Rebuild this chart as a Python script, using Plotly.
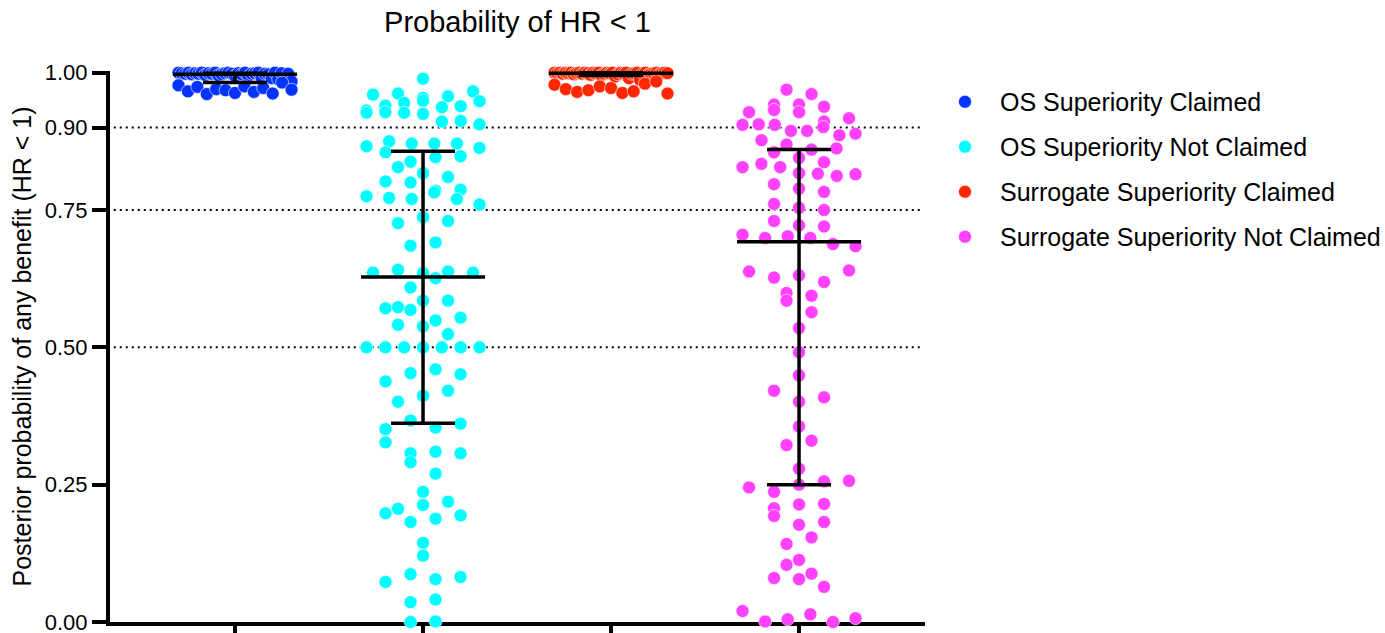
import numpy as np
import plotly.graph_objects as go

# ---------------- data ----------------
categories = ["OS Superiority Claimed", "OS Superiority Not Claimed",
              "Surrogate Superiority Claimed", "Surrogate Superiority Not Claimed"]

os_claimed = [1.000, 0.999, 0.998, 0.977, 1.000, 0.997, 0.999, 0.966, 0.998, 1.000,
              0.996, 0.974, 0.999, 0.998, 1.000, 0.961, 0.995, 0.997, 0.999, 0.970,
              1.000, 0.998, 0.994, 0.968, 0.999, 0.997, 1.000, 0.963, 0.993, 0.998,
              0.999, 0.975, 1.000, 0.991, 0.998, 0.965, 0.997, 0.990, 1.000, 0.972,
              0.988, 0.999, 0.986, 0.962, 0.998, 0.984, 0.982, 0.969]

os_not_claimed = [0.989,
                  0.960, 0.962, 0.954, 0.957, 0.966,
                  0.931, 0.940, 0.927, 0.928, 0.945, 0.949, 0.927, 0.937, 0.939, 0.948, 0.925,
                  0.911, 0.912, 0.906,
                  0.866, 0.875, 0.871, 0.871, 0.871, 0.863, 0.855,
                  0.838, 0.846, 0.848, 0.828,
                  0.817,
                  0.802, 0.810, 0.800,
                  0.775, 0.785, 0.772, 0.787, 0.770, 0.782, 0.770,
                  0.760,
                  0.726, 0.737, 0.730,
                  0.685, 0.691,
                  0.636, 0.641, 0.635, 0.638, 0.636,
                  0.609, 0.626,
                  0.571, 0.573, 0.585, 0.568, 0.585,
                  0.549, 0.541, 0.538, 0.554,
                  0.524,
                  0.500, 0.500, 0.500, 0.500, 0.500, 0.500, 0.500,
                  0.438, 0.453, 0.460, 0.451,
                  0.401, 0.412, 0.421,
                  0.351, 0.367, 0.354, 0.361,
                  0.327,
                  0.307, 0.310, 0.291, 0.307,
                  0.270,
                  0.237,
                  0.206, 0.198, 0.213, 0.219,
                  0.182, 0.188, 0.194,
                  0.144, 0.121,
                  0.073, 0.087, 0.078, 0.082,
                  0.036, 0.041,
                  0.000, 0.001]

sur_claimed = [1.000, 0.999, 1.000, 0.978, 0.998, 1.000, 0.999, 0.970, 1.000, 0.997,
               0.999, 1.000, 0.965, 0.998, 1.000, 0.999, 0.996, 1.000, 0.968, 0.999,
               1.000, 0.995, 0.998, 1.000, 0.975, 0.999, 1.000, 0.993, 0.997, 1.000,
               0.999, 0.972, 1.000, 0.990, 0.998, 0.999, 1.000, 0.963, 0.987, 0.999,
               1.000, 0.996, 0.998, 0.999, 0.966, 1.000, 0.997, 0.999, 0.980, 1.000,
               0.984, 0.999, 0.962]

sur_not_claimed = [0.969, 0.961,
                   0.942, 0.942,
                   0.928, 0.932, 0.938, 0.928,
                   0.911, 0.905, 0.906, 0.917, 0.905,
                   0.894, 0.894, 0.901,
                   0.886, 0.889,
                   0.877,
                   0.869, 0.860, 0.862, 0.855,
                   0.845,
                   0.828, 0.834, 0.837, 0.828,
                   0.817, 0.816, 0.812, 0.815,
                   0.797, 0.789, 0.783,
                   0.761,
                   0.754, 0.750,
                   0.730,
                   0.722, 0.720,
                   0.705, 0.699, 0.702, 0.699,
                   0.688, 0.684,
                   0.638, 0.627, 0.631, 0.619, 0.640,
                   0.599, 0.594, 0.585,
                   0.564,
                   0.535,
                   0.491,
                   0.449,
                   0.421,
                   0.401, 0.409,
                   0.356,
                   0.322, 0.330,
                   0.279,
                   0.245, 0.237, 0.250, 0.256, 0.257,
                   0.207, 0.214, 0.215,
                   0.193,
                   0.177, 0.182,
                   0.142, 0.154,
                   0.113, 0.104,
                   0.088, 0.080, 0.078,
                   0.064,
                   0.020,
                   0.001, 0.005, 0.014, 0.000, 0.007]

# median with interquartile range, as drawn in the reference
medians = [0.997, 0.628, 0.999, 0.692]
q1 = [0.982, 0.362, 0.995, 0.250]
q3 = [0.999, 0.857, 1.000, 0.860]

y_tick_vals = [0.0, 0.25, 0.50, 0.75, 0.90, 1.00]
y_tick_text = ["0.00", "0.25", "0.50", "0.75", "0.90", "1.00"]
ref_lines = [0.50, 0.75, 0.90]

# ---------------- styling / layout ----------------
colors = ["#0433FF", "#00FDFF", "#FF2600", "#FF40FF"]
FONT = "Liberation Sans, Arial, Helvetica, sans-serif"
W, H = 1385, 633
M_L, M_R, M_T, M_B = 110, 460, 71, 11
X_RANGE = [-0.665, 3.67]
Y_RANGE = [0.0, 1.003]
px_per_x = (W - M_L - M_R) / (X_RANGE[1] - X_RANGE[0])
px_per_y = (H - M_T - M_B) / (Y_RANGE[1] - Y_RANGE[0])

DOT = 12.5          # px, marker diameter (row height)
ROW_STEP = 25.0     # px between neighbours in one row
MAX_SPAN = 113.0    # px, widest row (centre to centre)


def swarm_offsets(values):
    """Prism-like column scatter: walk the sorted values, start a new row
    whenever a value is one dot height above the row start, and spread the
    points of a row evenly around the category centre."""
    h = DOT / px_per_y
    order = sorted(range(len(values)), key=lambda i: (values[i], i))
    rows, cur, start = [], [], None
    for i in order:
        if cur and values[i] - start >= h - 1e-9:
            rows.append(cur)
            cur = []
        if not cur:
            start = values[i]
        cur.append(i)
    if cur:
        rows.append(cur)
    offs = np.zeros(len(values))
    for row in rows:
        row = sorted(row)
        n = len(row)
        if n < 2:
            continue
        step = min(ROW_STEP, MAX_SPAN / (n - 1))
        for k, i in enumerate(row):
            offs[i] = (k - (n - 1) / 2) * step / px_per_x
    return offs


groups = [os_claimed, os_not_claimed, sur_claimed, sur_not_claimed]

fig = go.Figure()

for gi, (name, vals, col) in enumerate(zip(categories, groups, colors)):
    offs = swarm_offsets(vals)
    fig.add_trace(go.Scatter(
        x=gi + offs, y=vals, mode="markers", name=name,
        legendgroup=name,
        marker=dict(size=13, color=col, line=dict(color="white", width=0.6)),
        cliponaxis=False, hoverinfo="y",
    ))

# median lines
MED_HALF = 0.33
mx, my = [], []
for gi, m in enumerate(medians):
    mx += [gi - MED_HALF, gi + MED_HALF, None]
    my += [m, m, None]
fig.add_trace(go.Scatter(x=mx, y=my, mode="lines", showlegend=False,
                         line=dict(color="black", width=3.5), hoverinfo="skip"))

# interquartile range whiskers
fig.add_trace(go.Scatter(
    x=list(range(len(categories))), y=medians, mode="markers", showlegend=False,
    marker=dict(size=1, color="rgba(0,0,0,0)"), hoverinfo="skip",
    error_y=dict(type="data", symmetric=False,
                 array=[b - m for b, m in zip(q3, medians)],
                 arrayminus=[m - a for m, a in zip(medians, q1)],
                 width=32, thickness=3.5, color="black"),
))

shapes = [dict(type="line", xref="x", yref="y", x0=X_RANGE[0] + 0.02, x1=X_RANGE[1] - 0.02,
               y0=v, y1=v, layer="below",
               line=dict(color="black", width=2, dash="2px,4px")) for v in ref_lines]

fig.update_layout(
    width=W, height=H, autosize=False,
    margin=dict(l=M_L, r=M_R, t=M_T, b=M_B, pad=0, autoexpand=False),
    paper_bgcolor="white", plot_bgcolor="white",
    font=dict(family=FONT, color="black"),
    title=dict(text="Probability of HR &lt; 1", x=0.5, xref="paper", xanchor="center",
               y=1 - 22 / H, yref="container", yanchor="middle",
               font=dict(size=29, family=FONT, color="black")),
    showlegend=True,
    legend=dict(x=(930 - M_L) / (W - M_L - M_R), xanchor="left", y=0.9855, yanchor="top",
                font=dict(size=25, family=FONT, color="black"),
                tracegroupgap=9.5, itemwidth=60, bgcolor="rgba(0,0,0,0)"),
    shapes=shapes,
    xaxis=dict(range=X_RANGE, tickvals=list(range(len(categories))), showticklabels=False,
               showline=True, linecolor="black", linewidth=4, automargin=False,
               ticks="outside", ticklen=14, tickwidth=4, tickcolor="black",
               showgrid=False, zeroline=False, fixedrange=True, layer="below traces"),
    yaxis=dict(range=Y_RANGE, tickvals=y_tick_vals, ticktext=y_tick_text,
               showline=True, linecolor="black", linewidth=4, automargin=False,
               ticks="outside", ticklen=14, tickwidth=4, tickcolor="black",
               tickfont=dict(size=22, family=FONT, color="black"),
               ticklabeloverflow="allow",
               title=dict(text="Posterior probability of any benefit (HR &lt; 1)",
                          font=dict(size=25, family=FONT, color="black"), standoff=7),
               showgrid=False, zeroline=False, fixedrange=True, layer="below traces"),
)

# the page body gets no margin so the 1385x633 figure fills the window exactly
fig.write_html("out.html", config={"displayModeBar": False},
               post_script="document.body.style.margin='0';")
